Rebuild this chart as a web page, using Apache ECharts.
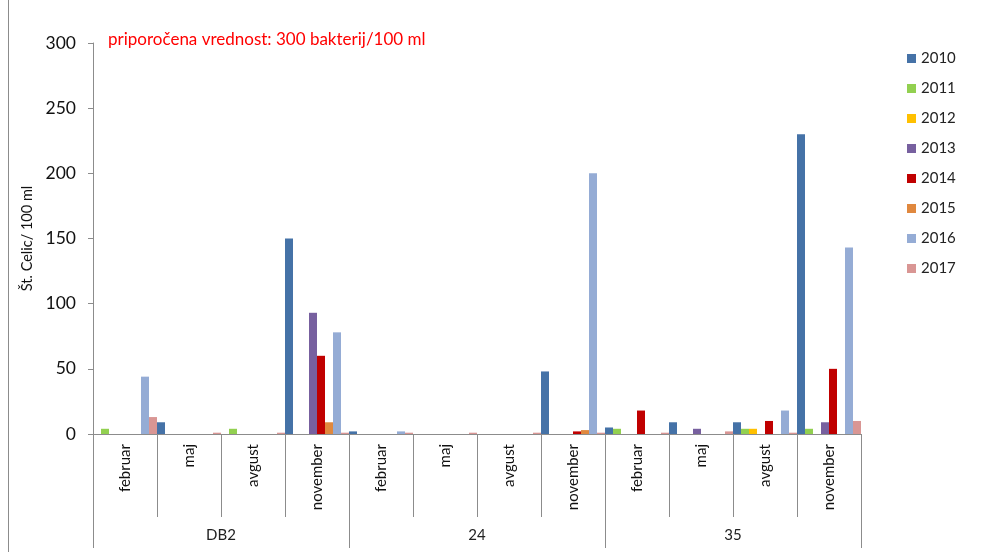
<!DOCTYPE html>
<html>
<head>
<meta charset="utf-8">
<style>
  html, body { margin: 0; padding: 0; background: #ffffff; }
  #chart { width: 982px; height: 552px; }
</style>
<script src="https://cdn.jsdelivr.net/npm/echarts@6/dist/echarts.min.js"></script>
</head>
<body>
<div id="chart"></div>
<script>
// Sampling months, repeated for each station
const months = ['februar', 'maj', 'avgust', 'november',
                'februar', 'maj', 'avgust', 'november',
                'februar', 'maj', 'avgust', 'november'];
// Stations (each spans four months)
const stations = ['DB2', '24', '35'];
const years = ['2010', '2011', '2012', '2013', '2014', '2015', '2016', '2017'];

// Cell counts per 100 ml, one array per year (12 values: station x month)
const v2010 = [0, 9, 0, 150, 2, 0, 0, 48, 5, 9, 9, 230];
const v2011 = [4, 0, 4, 0, 0, 0, 0, 0, 4, 0, 4, 4];
const v2012 = [0, 0, 0, 0, 0, 0, 0, 0, 0, 0, 4, 0];
const v2013 = [0, 0, 0, 93, 0, 0, 0, 0, 0, 4, 0, 9];
const v2014 = [0, 0, 0, 60, 0, 0, 0, 2, 18, 0, 10, 50];
const v2015 = [0, 0, 0, 9, 0, 0, 0, 3, 0, 0, 0, 0];
const v2016 = [44, 0, 0, 78, 2, 0, 0, 200, 0, 0, 18, 143];
const v2017 = [13, 1, 1, 1, 1, 1, 1, 1, 1, 2, 1, 10];

const yTicks = { min: 0, max: 300, interval: 50 };
const yTitle = 'Št. Celic/ 100 ml';
const note = 'priporočena vrednost: 300 bakterij/100 ml';

const values = [v2010, v2011, v2012, v2013, v2014, v2015, v2016, v2017];
const colors = ['#4572a7', '#92d050', '#ffc000', '#77609f', '#c00000', '#e0883e', '#95acd5', '#d99694'];

const font = 'Lato, "Open Sans", sans-serif';
const axisGrey = '#8c8c8c';

const chart = echarts.init(document.getElementById('chart'), null, { renderer: 'canvas' });

chart.setOption({
  animation: false,
  backgroundColor: '#ffffff',
  color: colors,
  textStyle: { fontFamily: font },
  grid: { left: 93, right: 121, top: 43, bottom: 118, containLabel: false },
  legend: {
    orient: 'vertical',
    left: 902,
    top: 46,
    itemWidth: 9,
    itemHeight: 9,
    itemGap: 15,
    icon: 'rect',
    data: years,
    textStyle: { fontSize: 15, color: '#222', fontFamily: font }
  },
  xAxis: [
    {
      type: 'category',
      data: months,
      position: 'bottom',
      axisLine: { show: true, lineStyle: { color: axisGrey, width: 1 } },
      axisTick: { show: true, interval: 0, length: 83, lineStyle: { color: axisGrey } },
      axisLabel: {
        interval: 0, rotate: 90, margin: 10,
        fontSize: 15, color: '#111', fontFamily: font
      },
      splitLine: { show: false }
    },
    {
      type: 'category',
      data: stations,
      position: 'bottom',
      axisLine: { show: false },
      axisTick: { show: true, interval: 0, length: 114, lineStyle: { color: axisGrey } },
      axisLabel: { interval: 0, margin: 94, fontSize: 15, color: '#222', fontFamily: font },
      splitLine: { show: false }
    }
  ],
  yAxis: {
    type: 'value',
    min: yTicks.min,
    max: yTicks.max,
    interval: yTicks.interval,
    name: yTitle,
    nameLocation: 'middle',
    nameGap: 56,
    nameRotate: 90,
    nameTextStyle: { fontSize: 14.5, color: '#111', fontFamily: font },
    axisLine: { show: true, lineStyle: { color: axisGrey, width: 1 } },
    axisTick: { show: true, inside: false, length: 5, lineStyle: { color: axisGrey } },
    axisLabel: { margin: 17, fontSize: 17.5, color: '#111', fontFamily: font },
    splitLine: { show: false }
  },
  series: years.map((y, i) => ({
    name: y,
    type: 'bar',
    xAxisIndex: 0,
    data: values[i],
    barGap: '0%',
    barCategoryGap: '0%',
    itemStyle: { color: colors[i] }
  })),
  graphic: [
    {
      type: 'text',
      left: 108,
      top: 31,
      style: { text: note, fill: '#ff0000', fontSize: 17, fontFamily: font }
    },
    {
      type: 'line',
      shape: { x1: 8.5, y1: 0, x2: 8.5, y2: 552 },
      style: { stroke: '#8c8c8c', lineWidth: 1 }
    }
  ]
});
</script>
</body>
</html>
